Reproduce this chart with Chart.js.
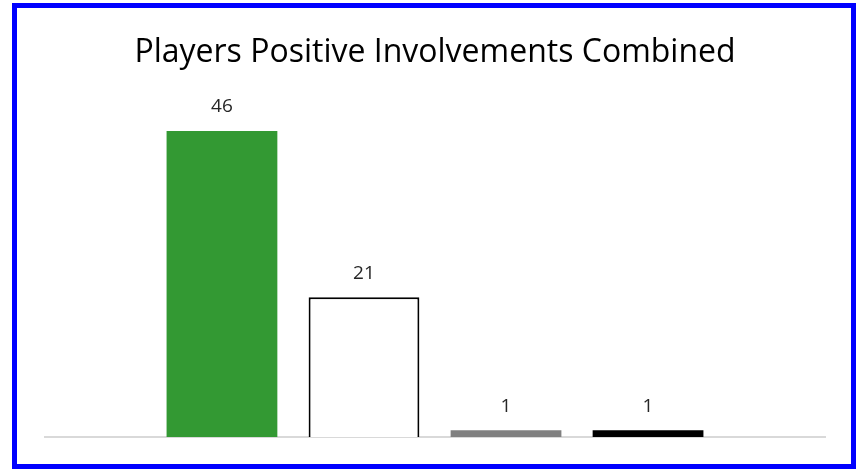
<!DOCTYPE html>
<html>
<head>
<meta charset="utf-8">
<script src="https://cdn.jsdelivr.net/npm/chart.js@4/dist/chart.umd.min.js"></script>
<style>
  html, body { margin: 0; padding: 0; background: #ffffff; }
  #wrap { position: absolute; left: 0; top: 0; width: 856px; height: 469px; }
  #frame { position: absolute; left: 12px; top: 3px; width: 844px; height: 466px;
           box-sizing: border-box; border: 5px solid #0000ff; pointer-events: none; }
</style>
</head>
<body>
<div id="wrap"><canvas id="c" width="856" height="469"></canvas></div>
<div id="frame"></div>
<script>
const chartTitle = "Players Positive Involvements Combined";
const categories = ["Category 1", "Category 2", "Category 3", "Category 4"];
const positions = [0, 1, 2, 3];
const values = [46, 21, 1, 1];
const fillColors = ["#339933", "#ffffff", "#808080", "#000000"];
const borderColors = ["#339933", "#000000", "#808080", "#000000"];
const borderWidths = [0, 2, 0, 0];

const valueLabels = {
  id: "valueLabels",
  afterDatasetsDraw(chart) {
    const ctx = chart.ctx;
    const meta = chart.getDatasetMeta(0);
    ctx.save();
    ctx.font = "19px 'Open Sans', 'Liberation Sans', sans-serif";
    ctx.fillStyle = "#262626";
    ctx.textAlign = "center";
    ctx.textBaseline = "middle";
    meta.data.forEach((bar, i) => {
      ctx.fillText(String(values[i]), bar.x, bar.y - 24);
    });
    ctx.restore();
  }
};

new Chart(document.getElementById("c"), {
  type: "bar",
  data: {
    labels: categories,
    datasets: [{
      data: positions.map((p, i) => ({ x: p, y: values[i] })),
      backgroundColor: fillColors,
      borderColor: borderColors,
      borderWidth: borderWidths,
      borderSkipped: "bottom",
      barPercentage: 0.78,
      categoryPercentage: 1.0
    }]
  },
  options: {
    responsive: false,
    animation: false,
    layout: { padding: { left: 45, right: 31, top: 34, bottom: 24 } },
    plugins: {
      legend: { display: false },
      tooltip: { enabled: false },
      title: {
        display: true,
        text: chartTitle,
        color: "#000000",
        font: { family: "'Open Sans', 'Liberation Sans', sans-serif", size: 32, weight: "normal" },
        padding: { top: 0, bottom: 32 }
      }
    },
    scales: {
      x: {
        type: "linear",
        offset: false,
        min: -1.246,
        max: 4.246,
        grid: { display: false },
        ticks: { display: false },
        border: { display: true, color: "#d9d9d9", width: 2 }
      },
      y: {
        display: false,
        min: 0,
        max: 50
      }
    }
  },
  plugins: [valueLabels]
});
</script>
</body>
</html>
